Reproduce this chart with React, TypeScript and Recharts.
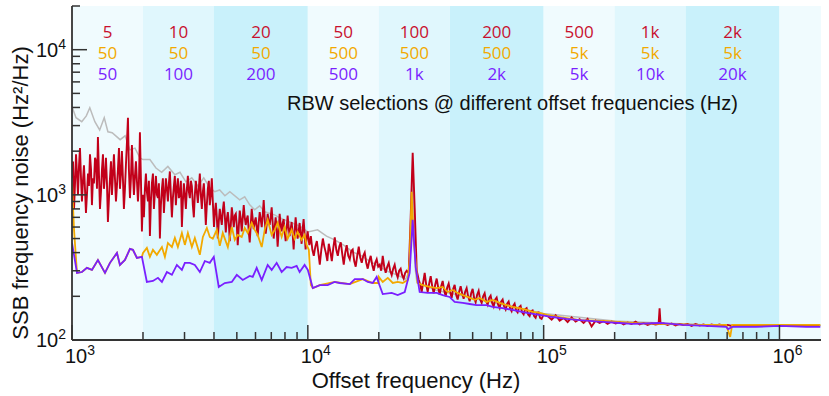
import React from 'react';
import { LineChart, Line, XAxis, YAxis, ReferenceArea } from 'recharts';

// offset-frequency bands (Hz) and the RBW used in each one
const bandEdges = [1e3, 2e3, 4e3, 1e4, 2e4, 4e4, 1e5, 2e5, 4e5, 1e6, 1.5e6];
const rbwRed = ['5', '10', '20', '50', '100', '200', '500', '1k', '2k'];
const rbwOrange = ['50', '50', '50', '500', '500', '500', '5k', '5k', '5k'];
const rbwPurple = ['50', '100', '200', '500', '1k', '2k', '5k', '10k', '20k'];

// [offset frequency (Hz), SSB noise (Hz^2/Hz)]
const gray: [number, number][] = [
  [1000, 4045], [1040, 3400], [1100, 3190], [1150, 3500], [1190, 3980], [1250, 3190], [1310, 2800],
  [1370, 3400], [1420, 2720], [1480, 2680], [1600, 2400], [1680, 2550], [1760, 2040], [1850, 2100],
  [1940, 1800], [2000, 1750], [2140, 1750], [2270, 1530], [2400, 1430], [2550, 1570], [2730, 1375],
  [2870, 1430], [3040, 1230], [3220, 1310], [3420, 1150], [3620, 1310], [3840, 1120], [4030, 1050],
  [4230, 1080], [4450, 985], [4670, 1050], [5140, 924], [5400, 970], [5670, 853], [5950, 788],
  [6250, 840], [6560, 765], [7230, 728], [7600, 695], [8370, 650], [9230, 610], [10000, 555],
  [11000, 574], [12000, 520], [13000, 490], [14200, 450], [15500, 405], [16900, 380], [18500, 345],
  [20200, 318], [22000, 295], [24000, 280], [26000, 262], [27000, 300], [27800, 1500], [28600, 300],
  [29000, 250], [35000, 220], [50000, 195], [100000, 152], [200000, 135], [500000, 127], [1500000, 126],
];

const red: [number, number][] = [
  // 1k - 2k
  [1000, 1300], [1010, 1700], [1020, 800], [1030, 1200], [1040, 1900], [1050, 1400], [1060, 1000],
  [1071, 1600], [1081, 2100], [1092, 1300], [1102, 900], [1113, 1250], [1124, 1600], [1135, 1100],
  [1146, 750], [1157, 1000], [1169, 1400], [1180, 1150], [1192, 1900], [1204, 1500], [1215, 850],
  [1227, 1300], [1239, 1200], [1252, 1800], [1264, 1700], [1276, 1100], [1288, 2500], [1301, 1400],
  [1314, 800], [1327, 1050], [1340, 1500], [1353, 1900], [1366, 1100], [1380, 1350], [1393, 1800],
  [1407, 1200], [1420, 650], [1435, 950], [1449, 1300], [1463, 1700], [1477, 1000], [1492, 1400],
  [1506, 1900], [1521, 1300], [1536, 900], [1551, 1150], [1566, 1500], [1582, 2100], [1597, 1100],
  [1613, 1400], [1628, 2000], [1644, 1300], [1660, 800], [1677, 1100], [1693, 1600], [1710, 2300],
  [1727, 3400], [1743, 1500], [1761, 950], [1778, 1300], [1795, 2200], [1813, 1400], [1831, 1000],
  [1849, 1350], [1867, 1700], [1885, 1250], [1904, 900], [1922, 1200], [1941, 2700], [1960, 1300],
  [1979, 560],
  // 2k - 4k
  [2000, 1000], [2018, 700], [2038, 1100], [2058, 1400], [2077, 1050], [2099, 900], [2119, 1250],
  [2140, 520], [2161, 900], [2182, 1200], [2204, 1400], [2225, 800], [2247, 1050], [2269, 1350],
  [2291, 1000], [2314, 950], [2336, 1200], [2359, 500], [2382, 850], [2406, 1100], [2429, 1300],
  [2453, 750], [2477, 1000], [2501, 1300], [2526, 1100], [2551, 900], [2576, 1200], [2600, 1450],
  [2626, 1000], [2652, 700], [2678, 950], [2704, 1150], [2730, 1350], [2757, 850], [2784, 1100],
  [2812, 1300], [2839, 950], [2867, 1000], [2895, 1250], [2924, 600], [2952, 900], [2981, 1200],
  [3010, 1000], [3040, 800], [3070, 1100], [3100, 1350], [3130, 1050], [3160, 950], [3192, 1250],
  [3223, 1150], [3254, 850], [3286, 700], [3318, 1000], [3351, 1250], [3384, 1050], [3417, 880],
  [3450, 1100], [3484, 1400], [3518, 1000], [3553, 800], [3588, 1050], [3623, 1200], [3658, 900],
  [3694, 620], [3730, 850], [3767, 1100], [3804, 1250], [3840, 850], [3878, 1000], [3916, 1300],
  [3955, 900],
  // 4k - 10k
  [4000, 600], [4032, 750], [4073, 880], [4112, 700], [4153, 500], [4192, 650], [4233, 800],
  [4275, 700], [4317, 620], [4359, 780], [4403, 900], [4445, 720], [4489, 550], [4534, 680],
  [4580, 760], [4623, 640], [4667, 480], [4714, 620], [4760, 820], [4807, 700], [4853, 600],
  [4901, 720], [4950, 740], [4997, 620], [5044, 450], [5096, 600], [5144, 780], [5196, 680],
  [5245, 560], [5298, 700], [5349, 850], [5401, 700], [5454, 620], [5507, 680], [5560, 720],
  [5616, 560], [5671, 470], [5726, 620], [5782, 800], [5839, 680], [5897, 580], [5954, 650],
  [6012, 700], [6070, 600], [6129, 520], [6190, 640], [6251, 760], [6312, 680], [6375, 600],
  [6436, 720], [6500, 920], [6563, 680], [6628, 540], [6692, 620], [6757, 740], [6824, 650],
  [6891, 620], [6958, 700], [7026, 820], [7095, 640], [7165, 500], [7235, 600], [7305, 700],
  [7376, 580], [7448, 440], [7522, 560], [7596, 740], [7670, 620], [7745, 560], [7821, 640],
  [7897, 680], [7975, 560], [8054, 480], [8132, 580], [8211, 720], [8292, 600], [8373, 520],
  [8455, 580], [8539, 650], [8622, 540], [8707, 420], [8791, 560], [8878, 700], [8964, 580],
  [9051, 500], [9141, 560], [9230, 640], [9320, 540], [9412, 460], [9504, 580], [9597, 680],
  [9690, 540], [9785, 420], [9881, 500], [9980, 560],
  // 10k - 29k (spur near 27.8k)
  [10150, 450], [10300, 520], [10450, 420], [10600, 380], [10760, 440], [10920, 480], [11080, 400],
  [11240, 330], [11410, 420], [11580, 500], [11750, 440], [11920, 400], [12100, 350], [12270, 460],
  [12450, 410], [12640, 350], [12820, 430], [13010, 510], [13200, 420], [13400, 380], [13600, 440],
  [13800, 470], [14000, 390], [14200, 330], [14410, 400], [14620, 450], [14840, 380], [15060, 360],
  [15280, 410], [15500, 420], [15730, 350], [15960, 320], [16200, 380], [16440, 440], [16680, 370],
  [16930, 340], [17180, 380], [17430, 400], [17690, 340], [17950, 310], [18210, 350], [18480, 380],
  [18750, 330], [19030, 300], [19310, 340], [19590, 360], [19880, 320], [20180, 330], [20470, 300],
  [20780, 380], [21080, 320], [21390, 290], [21710, 320], [22030, 340], [22350, 300], [22680, 280],
  [23010, 310], [23350, 330], [23700, 290], [24050, 270], [24400, 300], [24760, 310], [25120, 280],
  [25500, 265], [25870, 290], [26250, 300], [26780, 290], [27300, 700], [27840, 1950], [28400, 800],
  [28960, 300],
  // 29k - 100k
  [29530, 260], [29970, 240], [30400, 215], [30850, 250], [31300, 290], [31770, 240], [32230, 215],
  [32710, 245], [33190, 275], [33680, 235], [34170, 210], [34680, 240], [35190, 265], [35710, 230],
  [36230, 205], [36770, 235], [37310, 255], [37860, 220], [38420, 200], [38990, 230], [39560, 245],
  [40140, 215], [40730, 195], [41330, 225], [41940, 240], [42560, 205], [43190, 190], [43820, 215],
  [44470, 235], [45120, 210], [45790, 192], [46460, 215], [47150, 228], [47840, 200], [48560, 185],
  [49270, 210], [50000, 225], [50730, 195], [51480, 182], [52240, 205], [53010, 218], [53790, 190],
  [54590, 180], [55390, 200], [56210, 210], [57030, 185], [57880, 175], [58730, 195], [59600, 202],
  [60470, 180], [61370, 170], [62270, 190], [63190, 196], [64120, 175], [65070, 166], [66020, 184],
  [67000, 190], [67990, 170], [68990, 162], [70010, 178], [71040, 184], [72090, 165], [73150, 158],
  [74230, 172], [75320, 178], [76430, 160], [77560, 155], [78700, 168], [79860, 172], [81040, 155],
  [82240, 150], [83450, 163], [84680, 166], [85930, 150], [87190, 146], [88480, 158], [89780, 160],
  [91110, 146], [92450, 142], [93810, 154], [95190, 155], [96600, 142], [98020, 140], [100000, 150],
  // 100k - 1.5M (spur near 310k)
  [104000, 146], [108100, 138], [112400, 148], [116900, 136], [121500, 142], [126400, 133],
  [131400, 143], [136600, 134], [142100, 139], [147700, 131], [153600, 140], [159700, 124],
  [166100, 136], [172700, 131], [179600, 135], [186700, 129], [194200, 134], [201900, 130],
  [209900, 133], [218300, 128], [227000, 132], [236000, 129], [245400, 134], [255200, 128],
  [265300, 131], [275900, 127], [286900, 130], [298300, 128], [307200, 129], [310200, 165],
  [313200, 129], [322500, 130], [335400, 127], [348700, 130], [362600, 126], [377000, 129],
  [392000, 127], [407600, 129], [423900, 125], [440700, 129], [458300, 126], [476500, 128],
  [495500, 125], [515200, 128], [535700, 126], [557100, 128], [579200, 125], [602300, 127],
  [626300, 125], [651200, 127], [677100, 125], [704100, 127], [732100, 125], [761300, 127],
  [791600, 125], [823100, 127], [855900, 125], [890000, 127], [925400, 125], [962200, 127],
  [1000000, 126], [1040000, 127], [1081000, 125], [1124000, 127], [1169000, 125], [1216000, 127],
  [1264000, 125], [1314000, 127], [1367000, 125], [1421000, 127], [1478000, 126],
];

const orange: [number, number][] = [
  [1000, 1210], [1020, 574], [1050, 290], [1102, 294], [1157, 314], [1215, 304], [1288, 356],
  [1380, 290], [1449, 340], [1551, 398], [1597, 329], [1677, 356], [1761, 424], [1813, 418],
  [1885, 368], [1979, 374],
  [2000, 398], [2077, 431], [2140, 374], [2204, 418], [2290, 386], [2406, 437], [2477, 374],
  [2551, 466], [2652, 437], [2730, 505], [2812, 437], [2924, 546], [3010, 452], [3100, 546],
  [3223, 437], [3318, 505], [3484, 386], [3589, 513], [3731, 591], [3840, 513], [3954, 498],
  [4112, 574], [4233, 445], [4358, 546], [4580, 437], [4760, 600], [4900, 489], [5044, 530],
  [5245, 513], [5401, 591], [5560, 546], [5782, 642], [5954, 574], [6129, 530], [6375, 437],
  [6563, 574], [6757, 672], [7026, 530], [7235, 574], [7448, 642], [7745, 513], [7975, 600],
  [8211, 498], [8539, 574], [8791, 498], [9051, 556], [9412, 489], [9690, 530], [9880, 452],
  [10100, 418], [10300, 239], [10500, 228], [11240, 239], [12990, 251], [15060, 243], [17100, 263],
  [18850, 247], [19980, 247],
  [20000, 272], [20780, 251], [21830, 268], [22920, 247], [24050, 251], [25250, 247], [26520, 259],
  [27030, 356], [27560, 1050], [28100, 489], [29200, 247], [30700, 239], [32840, 232], [35190, 228],
  [37310, 232], [39160, 214], [41120, 221], [43190, 211], [45400, 204], [47610, 198], [50990, 189],
  [53530, 195], [57300, 183], [60800, 189], [65070, 180], [69650, 174], [73800, 169], [79000, 166],
  [84700, 161], [89800, 156], [96200, 154], [103000, 149], [116900, 144], [142100, 137],
  [185000, 135], [238300, 131], [310000, 129], [458000, 127], [594500, 127], [618000, 105],
  [630000, 127], [1000000, 127], [1490000, 127],
];

const purple: [number, number][] = [
  [1000, 467], [1050, 290], [1102, 294], [1157, 314], [1215, 304], [1288, 356], [1380, 290],
  [1449, 340], [1551, 398], [1597, 329], [1677, 356], [1761, 424], [1813, 418], [1885, 368],
  [1979, 374], [2077, 251], [2204, 255], [2314, 268], [2406, 251], [2526, 294], [2652, 281],
  [2784, 329], [2924, 304], [3010, 340], [3160, 340], [3318, 329], [3484, 294], [3658, 350],
  [3840, 340], [3993, 374], [4191, 232], [4445, 247], [4760, 251], [4997, 281], [5297, 259],
  [5671, 276], [5839, 272], [6069, 314], [6375, 259], [6757, 329], [7026, 304], [7376, 340],
  [7745, 294], [8132, 318], [8539, 314], [8966, 324], [9230, 294], [9690, 329], [10000, 304],
  [10500, 228], [11240, 239], [12140, 239], [12990, 251], [13640, 247], [15060, 243], [15820, 263],
  [17100, 263], [17950, 251], [18850, 247], [19590, 272], [19980, 247], [20780, 207], [22680, 211],
  [24050, 204], [25760, 214], [27030, 290], [27840, 672], [28660, 318], [29800, 214], [32230, 211],
  [35190, 211], [37310, 204], [39910, 198], [41940, 183], [45400, 180], [48560, 177], [52000, 174],
  [57300, 174], [60800, 169], [66900, 166], [73800, 161], [84700, 154], [96200, 149], [109200, 144],
  [124900, 140], [142100, 137], [161400, 135], [185000, 133], [209900, 131], [238300, 129],
  [310200, 131], [389500, 127], [489800, 125], [594500, 123], [606000, 119], [630000, 123],
  [793000, 123], [1000000, 125], [1300000, 123], [1490000, 123],
];

const toRows = (pts: [number, number][]) => pts.map(([f, v]) => ({ f, v }));

const decadesX = [1e3, 1e4, 1e5, 1e6];
const decadesY = [1e2, 1e3, 1e4];
const mults = [1, 2, 3, 4, 5, 6, 7, 8, 9];
const xTicks = decadesX.flatMap((d) => mults.map((m) => d * m)).filter((v) => v <= 1.5e6);
const yTicks = decadesY.flatMap((d) => mults.map((m) => d * m)).filter((v) => v <= 2e4);

const shades = ['#f0fbfe', '#e0f7fd', '#c9f1fb'];
const FONT = '"Liberation Sans", Arial, sans-serif';
const TICK = '#333';

const isDecade = (v: number) => Math.abs(Math.log10(v) - Math.round(Math.log10(v))) < 1e-9;

const Pow = ({ x, y, v, anchor }: any) => (
  <text x={x} y={y} textAnchor={anchor} fontFamily={FONT} fontSize={20} fill="#111">
    10<tspan fontSize={14} dy={-8}>{Math.round(Math.log10(v))}</tspan>
  </text>
);

const XTick = (props: any) => {
  const { x, y, payload, top } = props;
  const major = isDecade(payload.value);
  const len = major ? 15 : 8;
  return (
    <g>
      <line x1={x} x2={x} y1={y} y2={top ? y + len : y - len} stroke={TICK} strokeWidth={1.5} />
      {!top && major && <Pow x={x - 7} y={y + 23} v={payload.value} anchor="start" />}
    </g>
  );
};

const YTick = (props: any) => {
  const { x, y, payload, right } = props;
  const major = isDecade(payload.value);
  const len = major ? 15 : 8;
  return (
    <g>
      <line y1={y} y2={y} x1={x} x2={right ? x - len : x + len} stroke={TICK} strokeWidth={1.5} />
      {!right && major && <Pow x={x - 6} y={y + 7} v={payload.value} anchor="end" />}
    </g>
  );
};

const bandLabel = (i: number) => (p: any) => {
  const vb = p.viewBox;
  const cx = vb.x + vb.width / 2;
  const rows = [
    [rbwRed[i], '#c8102e'],
    [rbwOrange[i], '#f2a900'],
    [rbwPurple[i], '#7a1fff'],
  ];
  return (
    <g>
      {rows.map(([t, c], k) => (
        <text key={k} x={cx} y={vb.y + 32 + k * 21} textAnchor="middle" fontFamily='"Open Sans", sans-serif' fontSize={17} fill={c}>
          {t}
        </text>
      ))}
    </g>
  );
};

export default function App() {
  const bands = bandEdges.slice(0, -1).map((x1, i) => ({ x1, x2: bandEdges[i + 1], fill: shades[i % 3] }));
  return (
    <div style={{ position: 'absolute', left: 0, top: 0, width: 829, height: 396 }}>
      <LineChart width={829} height={396} margin={{ top: 6, right: 8, bottom: 0, left: 0 }}>
        <XAxis
          xAxisId="b" dataKey="f" type="number" scale="log" domain={[1e3, 1.5e6]} allowDataOverflow
          ticks={xTicks} interval={0} height={56} tickSize={0} tickMargin={0}
          axisLine={{ stroke: TICK, strokeWidth: 1.8 }} tickLine={false} tick={<XTick />}
        />
        <XAxis
          xAxisId="t" orientation="top" dataKey="f" type="number" scale="log" domain={[1e3, 1.5e6]} allowDataOverflow
          ticks={xTicks} interval={0} height={0} tickSize={0} tickMargin={0}
          axisLine={{ stroke: TICK, strokeWidth: 1.8 }} tickLine={false} tick={<XTick top />}
        />
        <YAxis
          yAxisId="l" type="number" scale="log" domain={[100, 2e4]} allowDataOverflow
          ticks={yTicks} interval={0} width={72} tickSize={0} tickMargin={0}
          axisLine={{ stroke: TICK, strokeWidth: 1.8 }} tickLine={false} tick={<YTick />}
        />
        <YAxis
          yAxisId="r" orientation="right" type="number" scale="log" domain={[100, 2e4]} allowDataOverflow
          ticks={yTicks} interval={0} width={0} tickSize={0} tickMargin={0}
          axisLine={{ stroke: TICK, strokeWidth: 1.8 }} tickLine={false} tick={<YTick right />}
        />
        {bands.map((b, i) => (
          <ReferenceArea
            key={i} xAxisId="b" yAxisId="l" x1={b.x1} x2={b.x2} fill={b.fill} fillOpacity={1} stroke="none"
            label={i < rbwRed.length ? bandLabel(i) : undefined}
          />
        ))}
        <Line xAxisId="b" yAxisId="l" data={toRows(gray)} dataKey="v" stroke="#bcbcbc" strokeWidth={1.5} dot={false} isAnimationActive={false} />
        <Line xAxisId="b" yAxisId="l" data={toRows(red)} dataKey="v" stroke="#c2001a" strokeWidth={1.9} dot={false} isAnimationActive={false} />
        <Line xAxisId="b" yAxisId="l" data={toRows(orange)} dataKey="v" stroke="#f2a900" strokeWidth={1.8} dot={false} isAnimationActive={false} />
        <Line xAxisId="b" yAxisId="l" data={toRows(purple)} dataKey="v" stroke="#7a1fff" strokeWidth={1.8} dot={false} isAnimationActive={false} />
      </LineChart>
      <div style={{ position: 'absolute', left: 287, top: 93, fontFamily: FONT, fontSize: 20, lineHeight: '20px', color: '#111', whiteSpace: 'nowrap' }}>
        RBW selections @ different offset frequencies (Hz)
      </div>
      <div style={{ position: 'absolute', left: 416, top: 370, transform: 'translateX(-50%)', fontFamily: FONT, fontSize: 22, lineHeight: '22px', color: '#111', whiteSpace: 'nowrap' }}>
        Offset frequency (Hz)
      </div>
      <div style={{ position: 'absolute', left: 21, top: 193, transform: 'translate(-50%, -50%) rotate(-90deg)', fontFamily: FONT, fontSize: 22, lineHeight: '22px', color: '#111', whiteSpace: 'nowrap' }}>
        SSB frequency noise (Hz²/Hz)
      </div>
    </div>
  );
}
